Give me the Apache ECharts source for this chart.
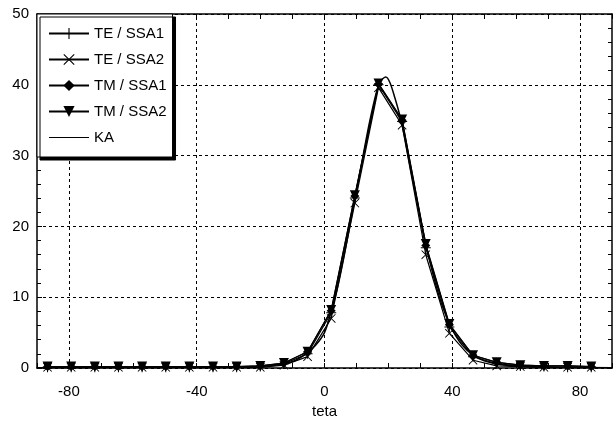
<!DOCTYPE html>
<html><head><meta charset="utf-8">
<script src="https://cdn.jsdelivr.net/npm/echarts@6/dist/echarts.min.js"></script>
<style>html,body{margin:0;padding:0;background:#fff}#c{width:616px;height:426px}</style>
</head><body><div id="c"></div>
<script>
// ---- data ----
const theta = [-86.7, -79.3, -71.9, -64.5, -57.1, -49.7, -42.3, -34.9, -27.5, -20.1, -12.7, -5.3, 2.1, 9.5, 16.9, 24.3, 31.7, 39.1, 46.5, 53.9, 61.3, 68.7, 76.1, 83.5];
const teSsa1 = [0.1, 0.1, 0.1, 0.1, 0.1, 0.1, 0.1, 0.1, 0.1, 0.2, 0.6, 2.0, 7.8, 24.0, 40.0, 34.8, 17.0, 5.8, 1.6, 0.6, 0.3, 0.2, 0.1, 0.1];
const teSsa2 = [0.1, 0.1, 0.1, 0.1, 0.1, 0.1, 0.1, 0.1, 0.1, 0.1, 0.4, 1.6, 7.0, 23.3, 39.6, 34.3, 16.0, 4.9, 1.1, 0.3, 0.2, 0.1, 0.1, 0.1];
const tmSsa1 = [0.2, 0.2, 0.2, 0.2, 0.2, 0.2, 0.2, 0.2, 0.2, 0.3, 0.7, 2.3, 8.1, 24.3, 40.1, 35.0, 17.3, 6.1, 1.8, 0.8, 0.4, 0.3, 0.3, 0.2];
const tmSsa2 = [0.2, 0.2, 0.2, 0.2, 0.2, 0.2, 0.2, 0.2, 0.2, 0.3, 0.7, 2.3, 8.2, 24.4, 40.2, 35.1, 17.5, 6.2, 1.8, 0.8, 0.4, 0.3, 0.3, 0.2];
const kaTheta = [-90, -40, -25, -18, -12.7, -9, -5.2, -2.8, 0, 2.1, 4, 6, 8, 10, 12, 14, 16, 17.5, 19.2, 20.5, 22, 23.5, 25, 27, 29, 31, 33, 35, 37, 39, 41, 43, 46, 50, 55, 60, 70, 90];
const kaValues = [0.05, 0.08, 0.15, 0.3, 0.6, 1.1, 2.2, 3.2, 5.0, 8.0, 11.2, 15.5, 20.3, 25.0, 29.8, 34.5, 38.5, 40.5, 41.1, 40.3, 38.2, 35.8, 32.8, 28.0, 23.5, 19.0, 15.0, 11.5, 8.6, 6.4, 4.6, 3.3, 2.0, 1.0, 0.5, 0.25, 0.1, 0.05];
const xGridTicks = [-80, -40, 0, 40, 80];
const seriesNames = ['TE / SSA1', 'TE / SSA2', 'TM / SSA1', 'TM / SSA2', 'KA'];

const FONT = "'Liberation Sans', Arial, sans-serif";
const FS = 15;
const pair = (xs, ys) => xs.map((x, i) => [x, ys[i]]);

const PLUS = 'path://M9,0h2v20h-2zM0,9h20v2h-20z';
const CROSS = 'path://M0,1.4L1.4,0L10,8.6L18.6,0L20,1.4L11.4,10L20,18.6L18.6,20L10,11.4L1.4,20L0,18.6L8.6,10Z';
const TRI_DOWN = 'path://M0,0L10,0L5,9Z';
// plain line legend icon (tiny corner dots keep the box 40x14 so the line is not stretched)
const LINE_ICON = 'path://M0,0h0.01v0.01h-0.01zM0,6.5h40v1h-40zM39.99,13.99h0.01v0.01h-0.01z';

const chart = echarts.init(document.getElementById('c'), null, {renderer: 'canvas'});
const axisCommon = {
  type: 'value',
  axisLine: {show: true, onZero: false, lineStyle: {color: '#000', width: 1.5}},
  axisTick: {show: true, inside: true, length: 5, lineStyle: {color: '#000'}},
};
function lineSeries(name, data, symbol, size) {
  return {
    name, type: 'line', data, symbol, symbolSize: size,
    showSymbol: symbol !== 'none',
    lineStyle: {color: '#000', width: 1.2},
    itemStyle: {color: '#000'},
    z: 3
  };
}
chart.setOption({
  animation: false,
  backgroundColor: '#fff',
  textStyle: {fontFamily: FONT},
  grid: {left: 37, right: 4, top: 14, bottom: 58, containLabel: false},
  xAxis: [
    Object.assign({}, axisCommon, {
      position: 'bottom', min: -90, max: 90, interval: 10,
      axisLabel: {fontSize: FS, color: '#000', fontFamily: FONT, margin: 16,
        formatter: v => (v % 40 === 0 ? String(v) : '')},
      splitLine: {show: false},
      name: 'teta', nameLocation: 'middle', nameGap: 28,
      nameTextStyle: {fontSize: FS, color: '#000', fontFamily: FONT}
    }),
    Object.assign({}, axisCommon, {
      position: 'top', min: -90, max: 90, interval: 10,
      axisLabel: {show: false}, splitLine: {show: false}
    })
  ],
  yAxis: [
    Object.assign({}, axisCommon, {
      position: 'left', min: 0, max: 50, interval: 10,
      minorTick: {show: true, splitNumber: 5, length: 4, lineStyle: {color: '#000'}},
      axisLabel: {fontSize: FS, color: '#000', fontFamily: FONT, margin: 8},
      splitLine: {show: true, lineStyle: {color: '#000', width: 1, type: [3, 3]}}
    }),
    Object.assign({}, axisCommon, {
      position: 'right', min: 0, max: 50, interval: 10,
      minorTick: {show: true, splitNumber: 5, length: 4, lineStyle: {color: '#000'}},
      axisLabel: {show: false}, splitLine: {show: false}
    })
  ],
  legend: {
    orient: 'vertical', left: 37, top: 14,
    data: seriesNames.map(n => (n === 'KA' ? {name: n, icon: LINE_ICON} : {name: n})),
    itemWidth: 40, itemHeight: 14, itemGap: 11,
    padding: [12, 6, 12, 11],
    backgroundColor: '#fff', borderColor: '#000', borderWidth: 1,
    shadowColor: '#000', shadowBlur: 0, shadowOffsetX: 3, shadowOffsetY: 3,
    textStyle: {fontSize: FS, color: '#000', fontFamily: FONT},
    inactiveColor: '#000'
  },
  series: [
    lineSeries(seriesNames[0], pair(theta, teSsa1), PLUS, 10),
    lineSeries(seriesNames[1], pair(theta, teSsa2), CROSS, 9),
    lineSeries(seriesNames[2], pair(theta, tmSsa1), 'diamond', 9),
    lineSeries(seriesNames[3], pair(theta, tmSsa2), TRI_DOWN, 10),
    Object.assign(lineSeries(seriesNames[4], pair(kaTheta, kaValues), 'none', 0), {
      smooth: 0.3, lineStyle: {color: '#000', width: 1.5},
      markLine: {
        silent: true, symbol: ['none', 'none'], label: {show: false},
        lineStyle: {color: '#000', width: 1, type: [3, 3]},
        data: xGridTicks.map(v => ({xAxis: v})),
        z: 1
      }
    })
  ]
});
</script></body></html>
